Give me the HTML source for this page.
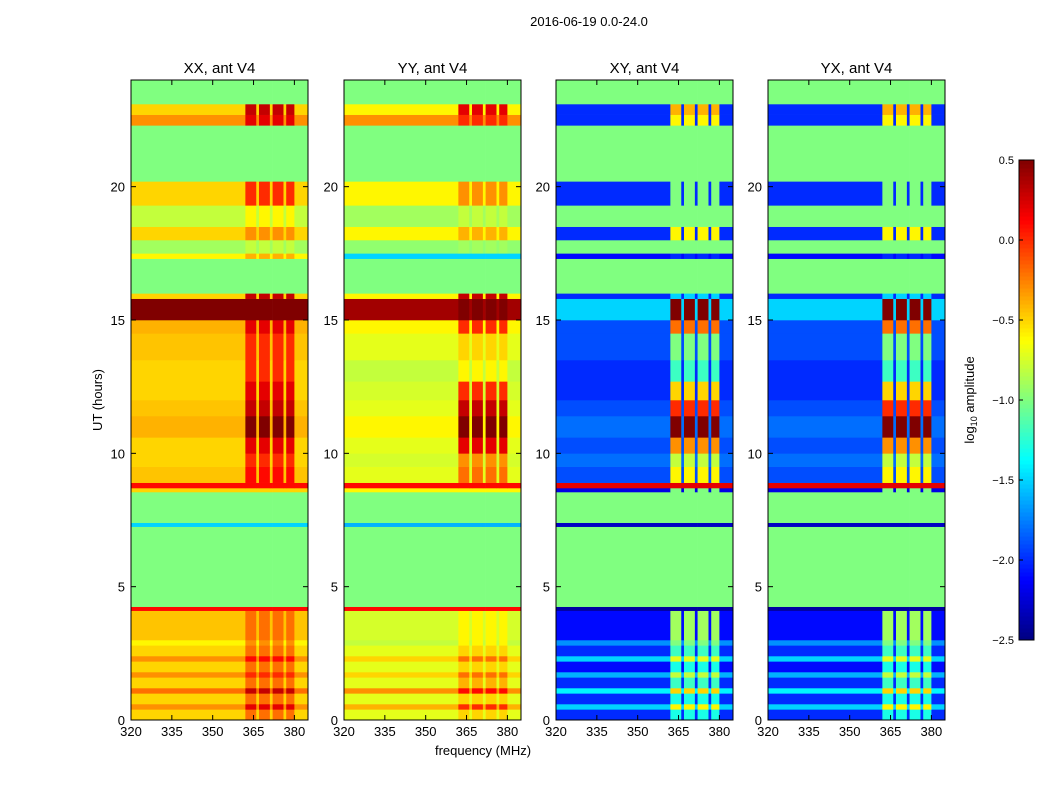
<!DOCTYPE html>
<html><head><meta charset="utf-8"><style>
html,body{margin:0;padding:0;background:#fff;}
svg text{font-family:"Liberation Sans",sans-serif;}
</style></head><body>
<svg id="chart" width="1050" height="800" xmlns="http://www.w3.org/2000/svg">
<text x="589" y="26" font-size="13" text-anchor="middle">2016-06-19 0.0-24.0</text>
<text x="483" y="755" font-size="13" text-anchor="middle">frequency (MHz)</text>
<text transform="translate(102,400) rotate(-90)" font-size="13" text-anchor="middle">UT (hours)</text>
<text transform="translate(974,400) rotate(-90)" font-size="13" text-anchor="middle">log<tspan font-size="9" dy="3">10</tspan><tspan dy="-3"> amplitude</tspan></text>
</svg>
<script>
// ---- data ----
const timeEdges = [0,0.4,0.6,1.0,1.2,1.6,1.8,2.2,2.4,2.8,3.0,4.1,4.25,7.25,7.4,8.55,8.7,8.9,9.5,10.0,10.6,11.4,12.0,12.7,13.5,14.5,15.0,15.8,16.0,17.3,17.5,18.0,18.5,19.3,20.2,22.3,22.7,23.1,24];
const freqEdges = [320,362,366,367,371,372,376,377,380,385];
const colIsHi = [0,1,0,1,0,1,0,1,0];
const xxLow = [-0.5,-0.3,-0.5,-0.2,-0.5,-0.3,-0.5,-0.3,-0.5,-0.6,-0.45,0.1,-1,-1.5,-1,-0.5,0.1,-0.45,-0.5,-0.5,-0.4,-0.45,-0.5,-0.5,-0.45,-0.4,0.5,-0.5,-1,-0.6,-0.9,-0.5,-0.8,-0.5,-1,-0.3,-0.5,-1];
const xxHi  = [-0.2,0.2,-0.2,0.3,-0.2,0.0,-0.2,0.1,-0.2,-0.3,-0.2,0.1,-1,-1.5,-1,-0.5,0.1,0.1,0.0,0.2,0.5,0.3,0.2,0.0,0.0,0.2,0.5,0.3,-1,-0.4,-0.8,-0.3,-0.6,0.0,-1,0.2,0.3,-1];
const yyLow = [-0.7,-0.4,-0.7,-0.3,-0.7,-0.5,-0.7,-0.5,-0.7,-0.8,-0.75,0.1,-1,-1.6,-1,-0.6,0.1,-0.7,-0.75,-0.7,-0.6,-0.7,-0.75,-0.8,-0.7,-0.6,0.4,-0.6,-1,-1.5,-0.95,-0.6,-0.9,-0.6,-1,-0.3,-0.6,-1];
const yyHi  = [-0.5,0.0,-0.5,0.1,-0.4,-0.2,-0.5,-0.2,-0.5,-0.6,-0.6,0.1,-1,-1.6,-1,-0.6,0.1,-0.2,-0.3,0.2,0.5,0.3,0.0,-0.6,-0.5,0.0,0.5,0.3,-1,-1.5,-0.9,-0.4,-0.8,-0.3,-1,0.0,0.2,-1];
const xyLow = [-2.0,-1.5,-2.0,-1.4,-2.0,-1.6,-2.1,-1.5,-2.0,-1.7,-2.1,-2.4,-1,-2.3,-1,-2.2,0.2,-1.9,-1.8,-1.9,-1.8,-1.9,-2.0,-2.0,-1.9,-1.9,-1.5,-2.0,-1,-2.1,-1.0,-2.0,-1.0,-2.0,-1,-2.0,-2.0,-1];
const xyHi  = [-1.3,-0.6,-1.3,-0.5,-1.2,-0.8,-1.3,-0.7,-1.2,-1.0,-0.9,-2.4,-1,-2.3,-1,-1.0,0.2,-0.6,-0.8,-0.3,0.5,0.0,-0.5,-1.2,-1.0,-0.2,0.5,-1.5,-1,-2.0,-1.0,-0.6,-1.0,-1.0,-1,-0.6,-0.4,-1];
const yxLow = xyLow.slice();
const yxHi  = xyHi.slice();
const panelTitles = ["XX, ant V4","YY, ant V4","XY, ant V4","YX, ant V4"];
const xTicks = [320,335,350,365,380];
const yTicks = [0,5,10,15,20];
const cbTicks = [0.5,0.0,-0.5,-1.0,-1.5,-2.0,-2.5];
const cbLabels = ["0.5","0.0","\u22120.5","\u22121.0","\u22121.5","\u22122.0","\u22122.5"];
// ---- layout ----
const panelX = [131,344,556,768], panelW = 177, plotTop = 80, plotBot = 720;
const vmin=-2.5, vmax=0.5;
const NS="http://www.w3.org/2000/svg";
const svg=document.getElementById('chart');
function jet(v){let t=(v-vmin)/(vmax-vmin);t=Math.max(0,Math.min(1,t));
 const c=x=>Math.round(255*Math.max(0,Math.min(1,x)));
 const r=c(Math.min(4*t-1.5,-4*t+4.5)),g=c(Math.min(4*t-0.5,-4*t+3.5)),b=c(Math.min(4*t+0.5,-4*t+2.5));
 return `rgb(${r},${g},${b})`;}
function el(tag,attrs){const e=document.createElementNS(NS,tag);for(const k in attrs)e.setAttribute(k,attrs[k]);svg.appendChild(e);return e;}
const yScale=t=>plotBot-(t/24)*(plotBot-plotTop);
const panels=[[xxLow,xxHi],[yyLow,yyHi],[xyLow,xyHi],[yxLow,yxHi]];
panels.forEach((p,pi)=>{
 const x0=panelX[pi];
 const xScale=f=>x0+(f-320)/(385-320)*panelW;
 for(let b=0;b<timeEdges.length-1;b++){
  for(let c=0;c<freqEdges.length-1;c++){
   const v=colIsHi[c]?p[1][b]:p[0][b];
   const y1=yScale(timeEdges[b+1]),y2=yScale(timeEdges[b]);
   const r=el('rect',{x:xScale(freqEdges[c]),y:y1,width:xScale(freqEdges[c+1])-xScale(freqEdges[c])+0.3,height:y2-y1+0.3,fill:jet(v)});
   
   
  }
 }
 const fr=el('rect',{x:x0,y:plotTop,width:panelW,height:plotBot-plotTop,fill:'none',stroke:'#000','stroke-width':1});
 
 
 const tt=el('text',{x:x0+panelW/2,y:73,'font-size':15,'text-anchor':'middle'});tt.textContent=panelTitles[pi];
 
 
 xTicks.forEach(f=>{const x=xScale(f);
  el('line',{x1:x,x2:x,y1:plotBot,y2:plotBot-5,stroke:'#000'});el('line',{x1:x,x2:x,y1:plotTop,y2:plotTop+5,stroke:'#000'});
  const t=el('text',{x:x,y:plotBot+16,'font-size':13,'text-anchor':'middle'});t.textContent=f;
  
  });
 yTicks.forEach(v=>{const y=yScale(v);
  el('line',{x1:x0,x2:x0+5,y1:y,y2:y,stroke:'#000'});el('line',{x1:x0+panelW,x2:x0+panelW-5,y1:y,y2:y,stroke:'#000'});
  const t=el('text',{x:x0-6,y:y+5,'font-size':13,'text-anchor':'end'});t.textContent=v;
  
  });
});
// colorbar
const cbX=1019,cbW=15,cbTop=160,cbBot=640;
const cbScale=v=>cbBot-(v-vmin)/(vmax-vmin)*(cbBot-cbTop);
for(let i=0;i<120;i++){const v1=vmin+(vmax-vmin)*i/120,v2=vmin+(vmax-vmin)*(i+1)/120;
 const r=el('rect',{x:cbX,y:cbScale(v2),width:cbW,height:cbScale(v1)-cbScale(v2)+0.5,fill:jet((v1+v2)/2)});
 
 }
const cbf=el('rect',{x:cbX,y:cbTop,width:cbW,height:cbBot-cbTop,fill:'none',stroke:'#000'});


cbTicks.forEach((v,i)=>{const y=cbScale(v);
 el('line',{x1:cbX,x2:cbX+4,y1:y,y2:y,stroke:'#000'});
 const t=el('text',{x:cbX-5,y:y+4,'font-size':11,'text-anchor':'end'});t.textContent=cbLabels[i];
 
 });
</script>
</body></html>
